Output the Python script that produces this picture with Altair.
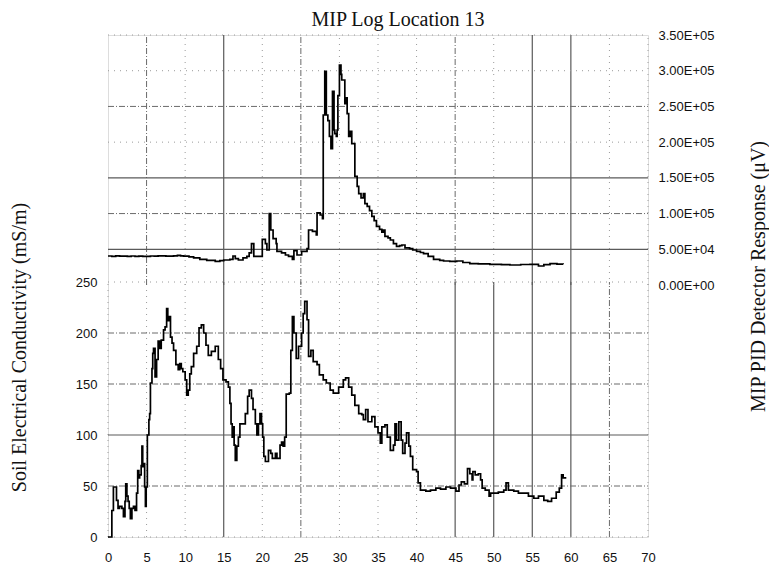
import altair as alt
import pandas as pd

# ---------------- data ----------------
title_text = "MIP Log Location 13"
ec_title = "Soil Electrical Conductivity (mS/m)"
pid_title = "MIP PID Detector Response (μV)"

x_ticks = [0, 5, 10, 15, 20, 25, 30, 35, 40, 45, 50, 55, 60, 65, 70]
ec_ticks = [0, 50, 100, 150, 200, 250]
pid_ticks = [0, 50000, 100000, 150000, 200000, 250000, 300000, 350000]
pid_tick_labels = ["0.00E+00", "5.00E+04", "1.00E+05", "1.50E+05",
                   "2.00E+05", "2.50E+05", "3.00E+05", "3.50E+05"]

# MIP PID detector response (uV) vs depth
pid_depth = [0.0, 0.5, 1.0, 1.5, 2.0, 2.5, 3.0, 3.5, 4.0, 4.5, 5.0, 5.5, 6.0, 6.5, 7.0,
             7.5, 8.0, 8.5, 9.0, 9.4, 9.8, 10.5, 11.1, 11.9, 12.8, 13.9, 14.5, 15.0,
             15.8, 16.2, 16.5, 16.9, 17.5, 18.0, 18.3, 18.6, 18.9, 19.5, 19.9, 20.0,
             20.4, 20.6, 20.9, 21.1, 21.4, 21.8, 21.9, 22.5, 23.0, 23.4, 23.9, 24.1,
             24.5, 24.9, 25.1, 25.8, 26.0, 26.5, 27.0, 27.1, 27.5, 27.8, 27.9, 28.1,
             28.3, 28.5, 28.7, 28.9, 29.1, 29.3, 29.4, 29.6, 29.7, 29.8, 30.0, 30.2,
             30.3, 30.7, 30.8, 31.0, 31.2, 31.4, 31.6, 32.0, 32.3, 32.5, 32.8, 33.1,
             33.3, 33.6, 33.9, 34.2, 34.5, 34.8, 35.2, 35.5, 35.7, 35.9, 36.3, 36.6,
             37.0, 37.4, 37.8, 38.1, 38.5, 39.1, 39.5, 40.0, 40.5, 40.9, 41.5, 42.2,
             43.0, 43.5, 44.3, 45.2, 46.0, 46.9, 48.0, 49.5, 51.0, 52.1, 53.5, 54.7,
             55.8, 56.5, 57.3, 58.2, 59.0]
pid_value = [40600, 40200, 40800, 40300, 40500, 40000, 40600, 40100, 40500, 40200, 40000,
             40600, 40300, 40800, 40900, 40400, 40500, 40900, 41500, 40800, 40500, 39500,
             38000, 36000, 34500, 33000, 34000, 35000, 36000, 40600, 37000, 35000, 38000,
             40000, 45000, 58000, 40000, 40000, 40000, 64000, 58000, 49000, 100000, 77000,
             65000, 58000, 47000, 45000, 42000, 40000, 36000, 48000, 42000, 42000, 47000,
             51000, 77000, 75000, 70000, 101000, 98000, 93000, 238000, 299000, 238000,
             230000, 208000, 191000, 271000, 217000, 212000, 208000, 217000, 265000, 308000,
             295000, 287000, 254000, 262000, 240000, 208000, 215000, 198000, 152000, 138000,
             128000, 122000, 128000, 114000, 110000, 104000, 96000, 90000, 82000, 78000,
             74000, 77000, 68000, 66000, 63000, 58000, 54000, 55000, 56000, 52000, 51000,
             49000, 47000, 45500, 44000, 40000, 36000, 34500, 33600, 33000, 33600, 31500,
             30000, 29500, 29000, 28500, 28000, 28700, 29000, 26600, 28500, 30000, 29200,
             29000]

# Soil electrical conductivity (mS/m) vs depth
ec_depth = [0.0, 0.45, 0.5, 0.7, 0.9, 1.1, 1.3, 1.5, 1.8, 2.0, 2.2, 2.3, 2.45, 2.6, 2.75,
            2.9, 3.1, 3.3, 3.5, 3.7, 3.85, 4.0, 4.1, 4.3, 4.4, 4.5, 4.6, 4.75, 4.85, 4.95,
            5.1, 5.3, 5.4, 5.5, 5.7, 5.8, 5.9, 6.1, 6.3, 6.5, 6.7, 6.9, 7.2, 7.4, 7.6,
            7.75, 7.9, 8.1, 8.3, 8.5, 8.8, 9.1, 9.3, 9.5, 9.7, 10.0, 10.2, 10.4, 10.6,
            10.8, 11.1, 11.5, 11.8, 12.1, 12.4, 12.7, 13.0, 13.4, 13.9, 14.3, 14.6, 14.9,
            15.3, 15.6, 15.8, 15.95, 16.1, 16.2, 16.35, 16.5, 16.7, 16.9, 17.1, 17.5,
            17.8, 18.1, 18.3, 18.6, 18.8, 19.1, 19.3, 19.5, 19.7, 19.9, 20.05, 20.2,
            20.4, 20.8, 21.1, 21.3, 21.7, 21.9, 22.3, 22.5, 22.7, 22.9, 23.1, 23.5, 23.7,
            23.9, 24.1, 24.4, 24.7, 24.9, 25.1, 25.3, 25.5, 25.8, 26.0, 26.3, 26.6, 27.1,
            27.4, 27.9, 28.3, 28.8, 29.2, 29.9, 30.5, 30.8, 31.2, 31.6, 32.0, 32.5, 32.9,
            33.1, 33.4, 33.7, 34.2, 34.6, 35.0, 35.3, 35.5, 35.9, 36.2, 36.6, 37.0, 37.2,
            37.4, 37.7, 38.0, 38.2, 38.5, 38.7, 39.0, 39.2, 39.5, 40.0, 40.2, 40.5, 41.2,
            41.8, 42.5, 43.1, 43.8, 44.4, 45.1, 45.5, 45.8, 46.2, 46.6, 46.9, 47.2, 47.3,
            47.6, 48.0, 48.3, 48.5, 48.9, 49.4, 49.6, 50.0, 50.6, 51.3, 51.6, 51.9, 52.6,
            53.2, 53.9, 54.5, 55.2, 55.8, 56.5, 57.0, 57.5, 58.1, 58.5, 58.8, 59.0, 59.3]
ec_value = [0, 0, 26, 49, 49, 36, 28, 30, 28, 20, 35, 52, 40, 35, 28,
            18, 28, 30, 26, 43, 65, 58, 61, 70, 89, 69, 72, 49, 30, 49,
            100, 115, 121, 151, 165, 180, 185, 157, 174, 192, 185, 193, 203, 206, 224,
            212, 216, 196, 190, 183, 169, 164, 170, 165, 162, 154, 139, 144, 160,
            167, 180, 187, 205, 208, 200, 188, 178, 182, 187, 174, 165, 154,
            152, 147, 131, 111, 98, 108, 90, 75, 89, 98, 111, 111,
            121, 138, 144, 136, 125, 111, 100, 111, 121, 111, 98, 79,
            74, 85, 82, 77, 82, 77, 90, 93, 89, 98, 140, 141, 183,
            216, 200, 175, 187, 187, 200, 219, 231, 213, 177, 183, 172, 169,
            159, 154, 151, 144, 141, 147, 154, 156, 147, 139, 129, 121, 120,
            115, 125, 113, 118, 108, 102, 92, 108, 110, 98, 85, 90, 111,
            95, 113, 95, 82, 92, 102, 89, 79, 66, 64, 53, 46, 45,
            46, 48, 47, 49, 48, 45, 51, 54, 52, 67, 62, 56, 64,
            61, 62, 56, 48, 46, 40, 43, 43, 44, 46, 53, 46, 45,
            43, 43, 40, 38, 40, 36, 35, 38, 44, 48, 61, 58, 57]

# grid line positions (by drawing style)
top_solid_x = [15, 55, 60]
top_dashed_x = [5, 25, 45]
top_dotted_x = [10, 20, 30, 35, 40, 50, 65, 70]
bottom_solid_x = [15, 45, 50, 55, 60]
bottom_dashed_x = [25, 65]
bottom_dotted_x = [0, 5, 10, 20, 30, 35, 40, 70]
top_solid_y = [50000, 150000]
top_dashed_y = [100000, 250000]
top_dotted_y = [200000, 300000, 350000]
bottom_solid_y = [100]
bottom_dashed_y = [50, 150, 200]
bottom_dotted_y = [0, 250]

# ---------------- layout ----------------
W, H = 540, 502
EC_MAX = 250 * H / 255.0            # lower panel: 250 mS/m sits 255 px above the bottom
PID_PER_PX = 350000 / 250.0         # upper panel: 3.5E+05 spans 250 px
PID_MIN = -(H - 250) * PID_PER_PX

LABEL_FONT = "Liberation Sans"
SERIF = "Liberation Serif"
INK = "#111111"

x_scale = alt.Scale(domain=[0, 70], nice=False, zero=False)
ec_scale = alt.Scale(domain=[0, EC_MAX], nice=False, zero=False)
pid_scale = alt.Scale(domain=[PID_MIN, 350000], nice=False, zero=False)

x_axis = alt.Axis(values=x_ticks, grid=False, domain=False, ticks=False, labelPadding=14,
                  labelFont=LABEL_FONT, labelFontSize=13, labelColor=INK, title=None,
                  labelFlush=False, labelOverlap=False)

ec_axis = alt.Axis(values=ec_ticks, orient="left", grid=False, domain=False, ticks=False,
                   labelPadding=11, labelFont=LABEL_FONT, labelFontSize=13, labelColor=INK,
                   labelFlush=False, labelOverlap=False,
                   title=ec_title, titleFont=SERIF, titleFontSize=20, titleFontWeight="normal",
                   titleColor=INK, titleAngle=270, titleX=-83, titleY=312,
                   titleAlign="center", titleBaseline="alphabetic")

pid_expr = " : ".join(f"datum.value == {v} ? '{lab}'" for v, lab in zip(pid_ticks, pid_tick_labels)) + " : ''"
pid_axis = alt.Axis(values=pid_ticks, orient="right", grid=False, domain=False, ticks=False,
                    labelPadding=10, labelFont=LABEL_FONT, labelFontSize=13, labelColor=INK,
                    labelFlush=False, labelOverlap=False, labelExpr=pid_expr,
                    title=pid_title, titleFont=SERIF, titleFontSize=20, titleFontWeight="normal",
                    titleColor=INK, titleAngle=270, titleX=116, titleY=241,
                    titleAlign="center", titleBaseline="alphabetic")


def X():
    return alt.X("depth:Q", scale=x_scale, axis=x_axis)


def ECY():
    return alt.Y("v:Q", scale=ec_scale, axis=ec_axis)


def PIDY():
    return alt.Y("v:Q", scale=pid_scale, axis=pid_axis)


STYLES = {
    "solid": dict(color="#5a5a5a", strokeWidth=1.2),
    "dashed": dict(color="#6a6a6a", strokeWidth=1, strokeDash=[6, 2, 1, 2]),
    "dotted": dict(color="#9a9a9a", strokeWidth=1, strokeDash=[1, 5]),
}


def vrules(xs, y0, y1, style, yfn):
    df = pd.DataFrame({"depth": xs, "v": [y0] * len(xs), "v2": [y1] * len(xs)})
    return alt.Chart(df).mark_rule(**STYLES[style]).encode(x=X(), y=yfn(), y2="v2:Q")


def hrules(ys, style, yfn):
    df = pd.DataFrame({"depth": [0] * len(ys), "depth2": [70] * len(ys), "v": ys})
    return alt.Chart(df).mark_rule(**STYLES[style]).encode(x=X(), x2="depth2:Q", y=yfn())


ec_df = pd.DataFrame({"depth": ec_depth, "v": ec_value})
pid_df = pd.DataFrame({"depth": pid_depth, "v": pid_value})

ec_group = alt.layer(
    vrules(bottom_dotted_x, 0, 250, "dotted", ECY),
    vrules(bottom_dashed_x, 0, 250, "dashed", ECY),
    vrules(bottom_solid_x, 0, 250, "solid", ECY),
    hrules(bottom_dotted_y, "dotted", ECY),
    hrules(bottom_dashed_y, "dashed", ECY),
    hrules(bottom_solid_y, "solid", ECY),
    alt.Chart(ec_df).mark_line(color="#000000", strokeWidth=1.7, interpolate="step-after")
    .encode(x=X(), y=ECY()),
)

pid_group = alt.layer(
    vrules(top_dotted_x, 0, 350000, "dotted", PIDY),
    vrules(top_dashed_x, 0, 350000, "dashed", PIDY),
    vrules(top_solid_x, 0, 350000, "solid", PIDY),
    hrules(top_dotted_y, "dotted", PIDY),
    hrules(top_dashed_y, "dashed", PIDY),
    hrules(top_solid_y, "solid", PIDY),
    alt.Chart(pid_df).mark_line(color="#000000", strokeWidth=1.7, interpolate="step-after")
    .encode(x=X(), y=PIDY()),
)

chart = (
    alt.layer(ec_group, pid_group)
    .resolve_scale(y="independent")
    .properties(
        width=W,
        height=H,
        autosize="none",
        padding={"left": 100, "top": 27, "right": 121, "bottom": 26},
        title=alt.TitleParams(text=title_text, font=SERIF, fontSize=20, fontWeight="normal",
                              color=INK, anchor="middle", frame="group", dx=20, dy=20,
                              offset=3, baseline="alphabetic"),
    )
    .configure_view(stroke=None)
    .configure(background="white")
)

chart.save("out.html", embed_options={"renderer": "svg", "actions": False})
